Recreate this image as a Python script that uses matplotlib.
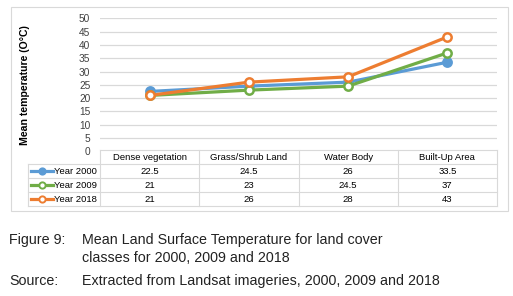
import matplotlib
matplotlib.use('Agg')
from matplotlib import pyplot as plt
from matplotlib.lines import Line2D
from matplotlib.patches import Rectangle

plt.rcParams['font.family'] = ['Liberation Sans', 'DejaVu Sans']

# data
categories = ['Dense vegetation', 'Grass/Shrub Land', 'Water Body', 'Built-Up Area']
series_names = ['Year 2000', 'Year 2009', 'Year 2018']
temp_2000 = [22.5, 24.5, 26, 33.5]
temp_2009 = [21, 23, 24.5, 37]
temp_2018 = [21, 26, 28, 43]
labels_2000 = ['22.5', '24.5', '26', '33.5']
labels_2009 = ['21', '23', '24.5', '37']
labels_2018 = ['21', '26', '28', '43']
y_ticks = [0, 5, 10, 15, 20, 25, 30, 35, 40, 45, 50]

W, H = 513, 296
fig = plt.figure(figsize=(W / 100, H / 100), dpi=100)


def fx(x):
    return x / W


def fy(y):
    return 1 - y / H


grid_col = '#d9d9d9'
txt_col = '#404040'

# outer chart frame
fig.patches.append(Rectangle((fx(11), fy(211)), fx(497), 204 / H, transform=fig.transFigure,
                             fill=False, edgecolor=grid_col, lw=0.8))

# plot area
x0, x1, ytop, ybot = 100, 497, 18.3, 151.3
ax = fig.add_axes([fx(x0), fy(ybot), (x1 - x0) / W, (ybot - ytop) / H])
ax.set_xlim(-0.5, 3.5)
ax.set_ylim(0, 50)
for s in ax.spines.values():
    s.set_visible(False)
ax.set_xticks([])
ax.set_yticks(y_ticks)
ax.tick_params(axis='y', length=0, labelsize=7.3, labelcolor=txt_col, pad=7)
ax.yaxis.grid(True, color=grid_col, lw=0.9)
ax.set_axisbelow(True)

colors = ['#5b9bd5', '#70ad47', '#ed7d31']
faces = ['#5b9bd5', 'white', 'white']
xs = range(len(categories))
for vals, c, fc in zip([temp_2000, temp_2009, temp_2018], colors, faces):
    ax.plot(xs, vals, color=c, lw=2.3, marker='o', ms=6, mfc=fc, mec=c, mew=1.8,
            solid_capstyle='round')

ax.set_ylabel('Mean temperature (O°C)', fontsize=7.6, fontweight='bold', color='black')
ax.yaxis.set_label_coords(-70 / (x1 - x0), 0.5)

# data table below
col_w = (x1 - x0) / len(categories)
rows_y = [150, 164, 178, 192, 206]
tl = dict(transform=fig.transFigure, color=grid_col, lw=0.8)
for i, y in enumerate(rows_y):
    left = x0 if i == 0 else 28
    fig.add_artist(Line2D([fx(left), fx(x1)], [fy(y), fy(y)], **tl))
for j in range(len(categories) + 1):
    xv = x0 + j * col_w
    fig.add_artist(Line2D([fx(xv), fx(xv)], [fy(150), fy(206)], **tl))
fig.add_artist(Line2D([fx(28), fx(28)], [fy(164), fy(206)], **tl))

for j, cat in enumerate(categories):
    fig.text(fx(x0 + (j + 0.5) * col_w), fy(157), cat, ha='center', va='center',
             fontsize=6.8, color='black')

row_labels = [labels_2000, labels_2009, labels_2018]
for i, (name, labs, c, fc) in enumerate(zip(series_names, row_labels, colors, faces)):
    yc = (rows_y[i + 1] + rows_y[i + 2]) / 2
    fig.add_artist(Line2D([fx(31), fx(53)], [fy(yc), fy(yc)], transform=fig.transFigure,
                          color=c, lw=2.3))
    fig.add_artist(Line2D([fx(42)], [fy(yc)], transform=fig.transFigure, marker='o',
                          ms=4.5, mfc=fc, mec=c, mew=1.4, color=c))
    fig.text(fx(54), fy(yc), name, ha='left', va='center', fontsize=6.8, color='black')
    for j, lab in enumerate(labs):
        fig.text(fx(x0 + (j + 0.5) * col_w), fy(yc), lab, ha='center', va='center',
                 fontsize=6.8, color='black')

# caption
cap = dict(fontsize=10.3, color='#222222', va='center', ha='left')
fig.text(fx(9), fy(240), 'Figure 9:', **cap)
fig.text(fx(82), fy(240), 'Mean Land Surface Temperature for land cover', **cap)
fig.text(fx(82), fy(258), 'classes for 2000, 2009 and 2018', **cap)
fig.text(fx(9), fy(281), 'Source:', **cap)
fig.text(fx(82), fy(281), 'Extracted from Landsat imageries, 2000, 2009 and 2018', **cap)

fig.savefig('out.png', dpi=100, facecolor='white')
